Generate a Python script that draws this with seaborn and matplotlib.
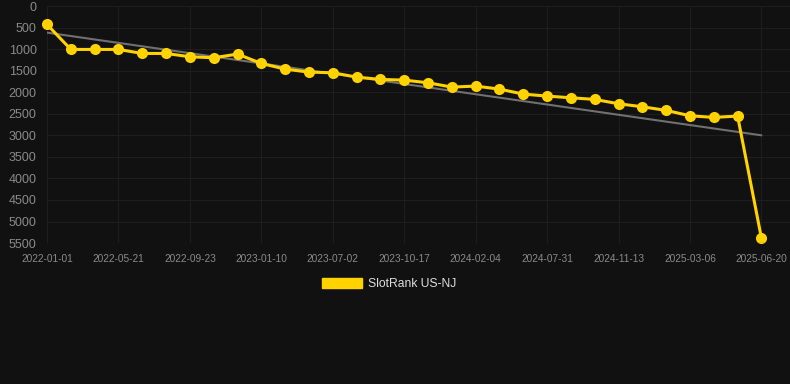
import numpy as np
import pandas as pd
import seaborn as sns
from matplotlib import pyplot as plt
from matplotlib.patches import Patch

# rank values, one point per step
ranks = [425, 1005, 1005, 1005, 1098, 1098, 1175, 1198, 1113, 1330,
         1462, 1531, 1547, 1647, 1701, 1717, 1779, 1879, 1856, 1926,
         2042, 2088, 2127, 2165, 2266, 2336, 2420, 2545, 2583, 2552, 5383]
tick_labels = ['2022-01-01', '2022-05-21', '2022-09-23', '2023-01-10',
               '2023-07-02', '2023-10-17', '2024-02-04', '2024-07-31',
               '2024-11-13', '2025-03-06', '2025-06-20']
y_ticks = [0, 500, 1000, 1500, 2000, 2500, 3000, 3500, 4000, 4500, 5000, 5500]
series_name = 'SlotRank US-NJ'

bg = '#111111'
yellow = '#FFD200'

df = pd.DataFrame({'step': np.arange(len(ranks)), 'rank': ranks})

# linear trend
coef = np.polyfit(df['step'], df['rank'], 1)
df['trend'] = np.polyval(coef, df['step'])

sns.set_theme(style='dark')
plt.rcParams['font.family'] = ['Liberation Sans', 'DejaVu Sans']

fig = plt.figure(figsize=(7.9, 3.84), dpi=100, facecolor=bg)
ax = fig.add_axes([0.0595, 0.367, 0.9405, 0.617])
ax.set_facecolor(bg)

sns.lineplot(data=df, x='step', y='trend', color='#707070', linewidth=1.5, ax=ax)
sns.lineplot(data=df, x='step', y='rank', color=yellow, linewidth=2.2,
             marker='o', markersize=8, markeredgewidth=0, ax=ax, clip_on=False)

ax.set_xlim(0, 31.2)
ax.set_ylim(5500, 0)
ax.set_yticks(y_ticks)
ax.set_xticks(np.arange(0, len(ranks), 3))
ax.set_xticklabels(tick_labels)
ax.tick_params(axis='y', labelsize=9, colors='#8a8a8a', length=0, pad=7.5)
ax.tick_params(axis='x', labelsize=7.3, colors='#8a8a8a', length=0, pad=8)
ax.grid(True, color='#1e1e1e', linewidth=0.8)
ax.set_xlabel('')
ax.set_ylabel('')
for s in ax.spines.values():
    s.set_visible(False)
ax.axhline(5500, color='#2a2a2a', linewidth=0.8)

fig.legend(handles=[Patch(facecolor=yellow, edgecolor=yellow, label=series_name)],
           loc='center', bbox_to_anchor=(0.493, 0.26), frameon=False,
           fontsize=8.7, labelcolor='#dddddd', handlelength=3.3, handleheight=0.95,
           handletextpad=0.5)

fig.savefig('out.png', dpi=100, facecolor=bg)
